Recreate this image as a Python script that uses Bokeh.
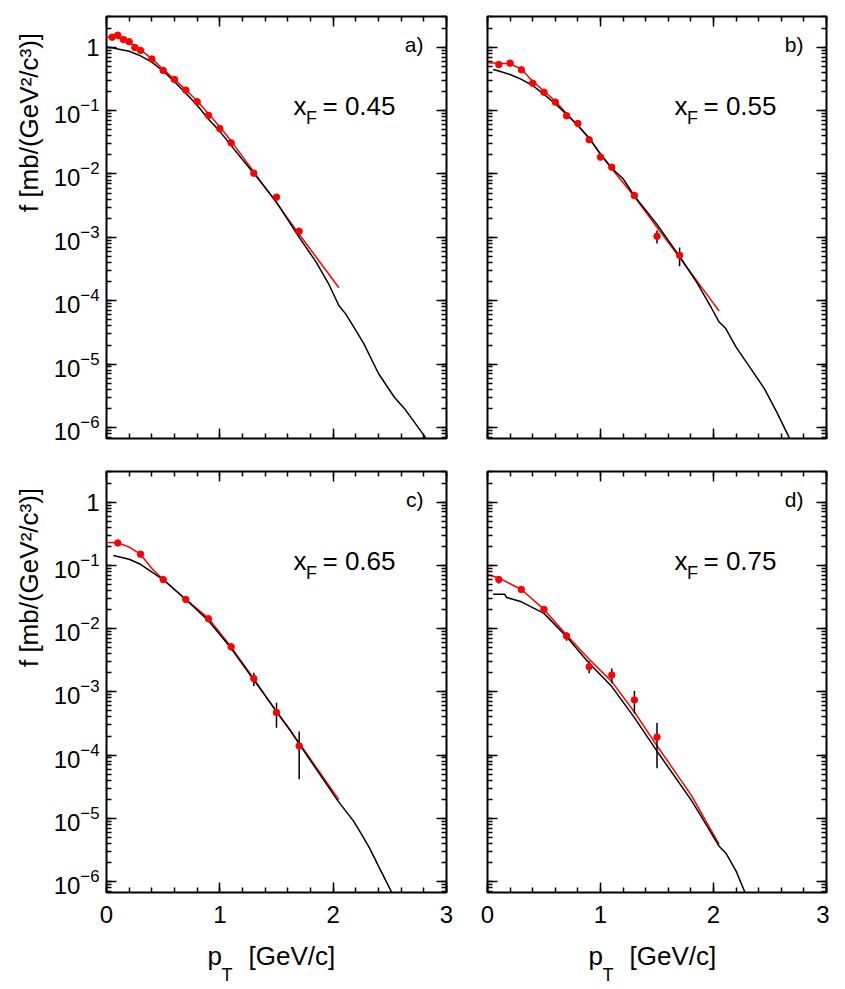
from math import pi
import numpy as np
from bokeh.plotting import figure
from bokeh.models import (Range1d, LogAxis, LinearAxis, Label,
                          SingleIntervalTicker, LogTicker)
from bokeh.layouts import gridplot
from bokeh.embed import file_html
from bokeh.resources import INLINE

FONT = "Liberation Sans"

# ---------------- data ----------------
panel_names = ["a)", "b)", "c)", "d)"]
xf_values = ["0.45", "0.55", "0.65", "0.75"]
y_title = "f [mb/(GeV²/c³)]"

# panel a  (x_F = 0.45)
pt_a = [0.05, 0.1, 0.15, 0.2, 0.25, 0.3, 0.4, 0.5, 0.6, 0.7, 0.8, 0.9, 1.0, 1.1, 1.3, 1.5, 1.7]
f_a = [1.44, 1.55, 1.32, 1.22, 0.99, 0.89, 0.65, 0.43, 0.31, 0.21, 0.138, 0.084, 0.052, 0.031,
       0.0103, 0.0043, 0.00125]
e_a = [0.04, 0.04, 0.04, 0.03, 0.03, 0.02, 0.015, 0.01, 0.007, 0.005, 0.003, 0.002, 0.0012,
       0.0008, 0.0003, 0.00025, 0.00015]
fit_pt_a = [0.0, 0.05, 0.1, 0.2, 0.3, 0.4, 0.5, 0.6, 0.7, 0.8, 0.9, 1.0, 1.1, 1.3, 1.5, 1.7, 1.9, 2.05]
fit_f_a = [1.45, 1.45, 1.41, 1.2, 0.91, 0.66, 0.45, 0.31, 0.212, 0.142, 0.089, 0.055, 0.033,
           0.0108, 0.0035, 0.00112, 0.00037, 0.00016]
mod_pt_a = [0.0, 0.05, 0.1, 0.2, 0.3, 0.4, 0.5, 0.6, 0.7, 0.8, 0.9, 1.0, 1.1, 1.3, 1.5, 1.7,
            1.85, 1.96, 2.05, 2.11, 2.2, 2.27, 2.4, 2.54, 2.63, 2.79, 2.85]
mod_f_a = [1.0, 0.98, 0.94, 0.865, 0.73, 0.58, 0.42, 0.285, 0.187, 0.121, 0.073, 0.047, 0.028,
           0.0102, 0.0036, 0.00100, 4.06e-4, 1.85e-4, 8.4e-5, 6.2e-5, 3.4e-5, 2.1e-5, 7.1e-6,
           3.0e-6, 1.98e-6, 8.0e-7, 5.5e-7]

# panel b  (x_F = 0.55)
pt_b = [0.1, 0.2, 0.3, 0.4, 0.5, 0.6, 0.7, 0.8, 0.9, 1.0, 1.1, 1.3, 1.5, 1.7]
f_b = [0.533, 0.56, 0.44, 0.27, 0.195, 0.136, 0.083, 0.0626, 0.0346, 0.0184, 0.0128, 0.00458,
       0.00104, 0.00052]
e_b = [0.015, 0.015, 0.012, 0.008, 0.006, 0.004, 0.003, 0.002, 0.0012, 0.0007, 0.0005, 0.0003,
       0.00024, 0.00017]
fit_pt_b = [0.0, 0.1, 0.2, 0.3, 0.4, 0.5, 0.6, 0.7, 0.8, 0.9, 1.0, 1.1, 1.3, 1.5, 1.7, 1.9, 2.05]
fit_f_b = [0.567, 0.56, 0.547, 0.45, 0.291, 0.202, 0.141, 0.089, 0.058, 0.0359, 0.0208, 0.0121,
           0.0044, 0.00144, 0.00048, 0.000158, 0.000069]
mod_pt_b = [0.05, 0.1, 0.2, 0.3, 0.4, 0.5, 0.6, 0.7, 0.8, 0.9, 1.0, 1.1, 1.2, 1.3, 1.5, 1.7,
            1.86, 1.97, 2.05, 2.11, 2.2, 2.33, 2.45, 2.56, 2.67, 2.72]
mod_f_b = [0.445, 0.42, 0.37, 0.31, 0.249, 0.18, 0.128, 0.087, 0.058, 0.037, 0.0204, 0.0123,
           0.0084, 0.0045, 0.0016, 0.0005, 1.85e-4, 8.4e-5, 4.6e-5, 3.6e-5, 1.85e-5, 8.5e-6,
           4.1e-6, 1.75e-6, 6.9e-7, 4.5e-7]

# panel c  (x_F = 0.65)
pt_c = [0.1, 0.3, 0.5, 0.7, 0.9, 1.1, 1.3, 1.5, 1.7]
f_c = [0.226, 0.150, 0.0597, 0.0289, 0.0143, 0.00516, 0.00162, 0.00047, 0.000139]
e_c = [0.006, 0.004, 0.002, 0.0012, 0.0006, 0.00065, 0.00038, 0.0002, 0.0000975]
fit_pt_c = [0.0, 0.1, 0.2, 0.3, 0.4, 0.5, 0.7, 0.9, 1.1, 1.3, 1.5, 1.7, 2.05]
fit_f_c = [0.229, 0.227, 0.195, 0.150, 0.089, 0.0597, 0.0289, 0.0145, 0.0051, 0.00162, 0.00048,
           0.000155, 0.0000197]
mod_pt_c = [0.06, 0.2, 0.3, 0.5, 0.7, 0.9, 1.1, 1.3, 1.5, 1.62, 1.7, 2.04, 2.18, 2.26, 2.32,
            2.40, 2.51, 2.55]
mod_f_c = [0.143, 0.125, 0.104, 0.0597, 0.0289, 0.0133, 0.00487, 0.00154, 0.00049, 2.5e-4,
           1.5e-4, 1.9e-5, 9.0e-6, 5.2e-6, 3.4e-6, 1.75e-6, 7.1e-7, 4.5e-7]

# panel d  (x_F = 0.75)
pt_d = [0.1, 0.3, 0.5, 0.7, 0.9, 1.1, 1.3, 1.5]
f_d = [0.0597, 0.0415, 0.0201, 0.00762, 0.0025, 0.00185, 0.000745, 0.000192]
e_d = [0.008, 0.002, 0.001, 0.0012, 0.00054, 0.00048, 0.00029, 0.00013]
fit_pt_d = [0.0, 0.1, 0.3, 0.5, 0.7, 0.9, 1.1, 1.3, 1.5, 1.8, 2.05]
fit_f_d = [0.0716, 0.0633, 0.0415, 0.0201, 0.0079, 0.00327, 0.00145, 0.00048, 0.00014,
           2.37e-5, 3.85e-6]
mod_pt_d = [0.05, 0.15, 0.17, 0.2, 0.3, 0.5, 0.7, 0.9, 1.1, 1.3, 1.5, 1.8, 1.89, 2.05,
            2.11, 2.2, 2.28, 2.32]
mod_f_d = [0.035, 0.035, 0.031, 0.030, 0.0265, 0.0174, 0.00743, 0.00282, 0.00121, 0.00039,
           0.000115, 1.97e-5, 1.08e-5, 3.6e-6, 2.8e-6, 1.46e-6, 6.65e-7, 4.5e-7]

datasets = [
    (pt_a, f_a, e_a, fit_pt_a, fit_f_a, mod_pt_a, mod_f_a),
    (pt_b, f_b, e_b, fit_pt_b, fit_f_b, mod_pt_b, mod_f_b),
    (pt_c, f_c, e_c, fit_pt_c, fit_f_c, mod_pt_c, mod_f_c),
    (pt_d, f_d, e_d, fit_pt_d, fit_f_d, mod_pt_d, mod_f_d),
]

X_RANGE = (0.0, 3.0)
Y_RANGE = (6.7e-7, 3.05)

# ---------------- layout (pixels) ----------------
TITLE_W = 48                      # column holding the rotated y titles
FW = [340, 339]                   # frame widths per column
FH = [422, 421]                   # frame heights per row
BL = [106 - TITLE_W, 21]          # left borders
BR = [20, 3]
BT = [16, 17]
BB = [16, 40]
XLAB_H = 988 - (BT[0] + FH[0] + BB[0]) - (BT[1] + FH[1] + BB[1])


def style_axis(ax, labels, size="24px", standoff=8):
    ax.axis_line_color = None
    ax.major_tick_in = 10
    ax.major_tick_out = 0
    ax.minor_tick_in = 5
    ax.minor_tick_out = 0
    ax.major_tick_line_color = "black"
    ax.minor_tick_line_color = "black"
    ax.major_tick_line_width = 1.5
    ax.minor_tick_line_width = 1.5
    if labels:
        ax.major_label_text_font = FONT
        ax.major_label_text_font_size = size
        ax.major_label_text_color = "black"
        ax.major_label_standoff = standoff
    else:
        ax.major_label_text_font_size = "1px"
        ax.major_label_text_color = None
        ax.major_label_standoff = 0


def lab(p, text, x, y, size, **kw):
    p.add_layout(Label(x=x, y=y, x_units="screen", y_units="screen", text=text,
                       text_font=FONT, text_font_size=f"{size}px", text_color="black", **kw))


def blank(w, h, bl, br, bt, bb):
    b = figure(frame_width=w, frame_height=h, x_range=Range1d(0, 1), y_range=Range1d(0, 1),
               x_axis_location=None, y_axis_location=None, output_backend="svg",
               toolbar_location=None, min_border_left=bl, min_border_right=br,
               min_border_top=bt, min_border_bottom=bb)
    b.grid.visible = False
    b.outline_line_color = None
    b.background_fill_color = "white"
    b.border_fill_color = "white"
    return b


def make_panel(idx):
    row, col = divmod(idx, 2)
    left = col == 0
    bottom = row == 1
    fw, fh = FW[col], FH[row]
    p = figure(frame_width=fw, frame_height=fh,
               x_range=Range1d(*X_RANGE), y_range=Range1d(*Y_RANGE),
               y_axis_type="log", output_backend="svg", toolbar_location=None,
               min_border_left=BL[col], min_border_right=BR[col],
               min_border_top=BT[row], min_border_bottom=BB[row])
    p.grid.visible = False
    p.outline_line_color = "black"
    p.outline_line_width = 2
    p.background_fill_color = "white"
    p.border_fill_color = "white"

    p.xaxis.ticker = SingleIntervalTicker(interval=1, num_minor_ticks=5)
    p.yaxis.ticker = LogTicker(num_minor_ticks=10)
    style_axis(p.xaxis[0], bottom, "24px", 13)
    style_axis(p.yaxis[0], left, "24px", 7)
    if left:
        p.yaxis[0].major_label_overrides = {1: "1"}

    top = LinearAxis(ticker=SingleIntervalTicker(interval=1, num_minor_ticks=5))
    style_axis(top, False)
    p.add_layout(top, "above")
    right = LogAxis(ticker=LogTicker(num_minor_ticks=10))
    style_axis(right, False)
    p.add_layout(right, "right")

    pt, f, e, fpt, ff, mpt, mf = datasets[idx]
    p.line(fpt, ff, line_color="red", line_width=1.5)
    p.line(mpt, mf, line_color="black", line_width=1.5)
    pt_arr = np.array(pt)
    f_arr = np.array(f)
    e_arr = np.array(e)
    p.segment(x0=pt_arr, y0=f_arr - e_arr, x1=pt_arr, y1=f_arr + e_arr,
              line_color="black", line_width=1.5)
    p.scatter(pt_arr, f_arr, size=6.5, fill_color="red", line_color="red")

    # panel tag and x_F label
    lab(p, panel_names[idx], fw - 23, fh - 39, 21, text_align="right")
    lab(p, "x", 187, fh - 104, 26)
    lab(p, "F", 199.5, fh - 111, 18)
    lab(p, "= " + xf_values[idx], 216, fh - 104, 26)
    return p


def make_ytitle(row):
    b = blank(TITLE_W, FH[row], 0, 0, BT[row], BB[row])
    # centred 106 px below the panel's frame top
    lab(b, y_title, 28, FH[row] - 106, 26, angle=pi / 2,
        text_align="center", text_baseline="middle")
    return b


def make_xtitle(col):
    b = blank(FW[col], XLAB_H, BL[col], BR[col], 0, 0)
    lab(b, "p", 101, 18, 26)
    lab(b, "T", 115, 4, 18)
    lab(b, "[GeV/c]", 142, 18, 26)
    return b


panels = [make_panel(i) for i in range(4)]
grid = gridplot([[make_ytitle(0), panels[0], panels[1]],
                 [make_ytitle(1), panels[2], panels[3]],
                 [None, make_xtitle(0), make_xtitle(1)]],
                toolbar_location=None)

open("out.html", "w").write(file_html(grid, INLINE))
